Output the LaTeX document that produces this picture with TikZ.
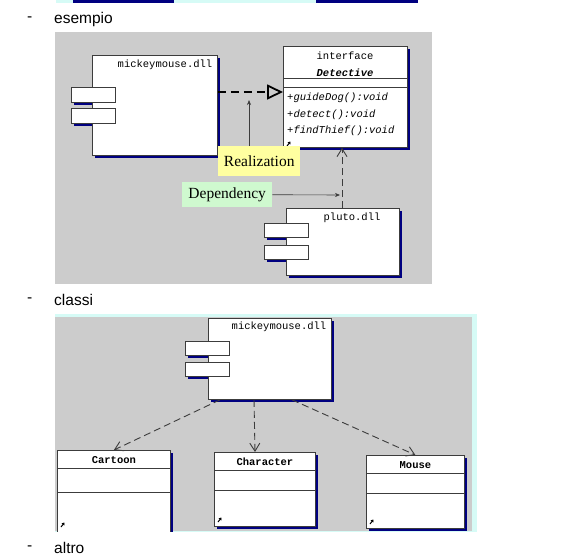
\documentclass[tikz,border=0pt]{standalone}
\usepackage{fontspec}
\newfontfamily\pagefont{Liberation Sans}
\newfontfamily\umlfont{Liberation Mono}
\newfontfamily\notefont{Liberation Serif}
\usetikzlibrary{arrows.meta}
\usetikzlibrary{shadows}

\definecolor{PanelGray}{HTML}{CCCCCC}
\definecolor{PanelCyan}{HTML}{D6FBF6}
\definecolor{ShadowBlue}{HTML}{000080}
\definecolor{BoxLine}{HTML}{3C3C3C}
\definecolor{NoteYellow}{HTML}{FFFFA0}
\definecolor{NoteGreen}{HTML}{CFF9CF}

\newcommand{\umlsize}{\fontsize{10.5}{12}\selectfont}
\newcommand{\umlcorner}[2]{\draw [line width=1pt, -{Triangle[length=2.5pt, width=3.5pt]}] (#1,#2) -- ++(3.5,-4.5);}

\tikzset{
    umlbox/.style={draw=BoxLine, fill=white, line width=0.8pt, inner sep=0pt, anchor=north west,
        drop shadow={shadow xshift=3pt, shadow yshift=-3pt, fill=ShadowBlue, opacity=1}},
    portbox/.style={draw=BoxLine, fill=white, line width=0.8pt, inner sep=0pt, anchor=north west},
    umltext/.style={inner sep=0pt, font=\umlfont\umlsize},
    notebox/.style={inner sep=0pt, anchor=north west, font=\notefont\fontsize{15.5}{18}\selectfont},
    pagetext/.style={inner sep=0pt, anchor=west, font=\pagefont\fontsize{15.5}{18}\selectfont},
    realize/.style={line width=1.8pt, dash pattern=on 8pt off 5pt, -{Triangle[open, length=16pt, width=15pt]}},
    depend/.style={color=BoxLine, line width=0.9pt, dash pattern=on 7pt off 4pt, -{Straight Barb[length=8pt, width=10pt]}},
    pointer/.style={color=BoxLine, line width=0.6pt, -{Stealth[length=5pt, width=4pt]}},
}

\begin{document}
\begin{tikzpicture}[x=1pt, y=-1pt]
            \useasboundingbox (0,0) rectangle (577,558);

            % Leftover of the diagram above
            \fill [PanelCyan] (56,0) rectangle (418,3);
            \fill [ShadowBlue] (73,0) rectangle (174,2.5);
            \fill [ShadowBlue] (316,0) rectangle (418,2.5);

            % Bullet lines
            \foreach \y/\ytext in {19/esempio, 300/classi, 548/altro} {
                \node [pagetext] (dash-\ytext) at (27,\y) {-};
                \node [pagetext] (\ytext) at (54,\y) {\ytext};
            }

            % Example panel
            \fill [PanelGray] (55,32) rectangle (432,284);

            % mickeymouse.dll
            \foreach \y in {87,108}
                \node [umlbox, minimum width=44pt, minimum height=15pt] (mickey-shade-\y) at (71,\y) {};
            \node [umlbox, minimum width=125pt, minimum height=100pt] (mickey) at (92,55) {};
            \foreach \y in {87,108}
                \node [portbox, minimum width=44pt, minimum height=15pt] (mickey-port-\y) at (71,\y) {};
            \node [umltext] (mickey-name) at (165,65) {mickeymouse.dll};

            % interface Detective
            \node [umlbox, minimum width=124pt, minimum height=101pt] (detective) at (283,46) {};
            \draw [BoxLine, line width=0.8pt] (detective.west |- 0,78) -- (detective.east |- 0,78);
            \draw [BoxLine, line width=0.8pt] (detective.west |- 0,87) -- (detective.east |- 0,87);
            \node [umltext] (detective-stereo) at (345,56) {interface};
            \node [umltext, font=\umlfont\umlsize\bfseries\itshape] (detective-name) at (345,73) {Detective};
            \foreach \y/\mtext in {98/guideDog, 115/detect, 131/findThief}
                \node [umltext, anchor=west, font=\umlfont\umlsize\itshape] (detective-\mtext) at (287,\y) {+\mtext():void};
            \umlcorner{287}{146}

            % Realization
            \coordinate (realize-y) at (0,92);
            \draw [realize] (mickey.east |- realize-y) -- (detective.west |- realize-y);
            \node [notebox, fill=NoteYellow, minimum width=82pt, minimum height=30pt] (realization) at (218,146) {Realization};
            \coordinate (realization-tip) at (249,100);
            \draw [pointer] (realization-tip |- realization.north) -- (realization-tip);

            % pluto.dll
            \foreach \y in {223,245}
                \node [umlbox, minimum width=44pt, minimum height=14pt] (pluto-shade-\y) at (264,\y) {};
            \node [umlbox, minimum width=113pt, minimum height=67pt] (pluto) at (286,208) {};
            \foreach \y in {223,245}
                \node [portbox, minimum width=44pt, minimum height=14pt] (pluto-port-\y) at (264,\y) {};
            \node [umltext] (pluto-name) at (352,218) {pluto.dll};

            % Dependency
            \coordinate (dependency-x) at (342,0);
            \draw [depend] (pluto.north -| dependency-x) -- (detective.south -| dependency-x);
            \node [notebox, fill=NoteGreen, minimum width=90pt, minimum height=25pt] (dependency) at (182,182) {Dependency};
            \coordinate (dependency-tip) at (340,195);
            \draw [pointer] (dependency.east) -- (dependency-tip);

            % Classes panel
            \fill [PanelCyan] (55,314) rectangle (477,532);
            \fill [PanelGray] (55,317) rectangle (472,531);
            \begin{scope}
                \clip (55,317) rectangle (472,531);

                % mickeymouse.dll
                \foreach \y in {341,362}
                    \node [umlbox, minimum width=44pt, minimum height=14pt] (mickey2-shade-\y) at (185,\y) {};
                \node [umlbox, minimum width=123pt, minimum height=81pt] (mickey2) at (208,318) {};
                \foreach \y in {341,362}
                    \node [portbox, minimum width=44pt, minimum height=14pt] (mickey2-port-\y) at (185,\y) {};
                \node [umltext] (mickey2-name) at (279,327) {mickeymouse.dll};

                % Cartoon, Character, Mouse
                \foreach \cname/\cx/\cy/\cw/\ch/\la/\lb/\ty in {Cartoon/57/450/113/92/468/492/460, Character/214/452/101/74/470/490/462, Mouse/366/455/98/73/473/493/465} {
                    \node [umlbox, minimum width=\cw pt, minimum height=\ch pt] (class-\cname) at (\cx,\cy) {};
                    \draw [BoxLine, line width=0.8pt] (class-\cname.west |- 0,\la) -- (class-\cname.east |- 0,\la);
                    \draw [BoxLine, line width=0.8pt] (class-\cname.west |- 0,\lb) -- (class-\cname.east |- 0,\lb);
                    \node [umltext, font=\umlfont\umlsize\bfseries] (class-\cname-name) at (class-\cname.north |- 0,\ty) {\cname};
                }
                \umlcorner{61}{527}
                \umlcorner{218}{522}
                \umlcorner{370}{524}

                % Dependencies
                \draw [depend] ([xshift=12pt]mickey2.south west) -- (class-Cartoon.north);
                \draw [depend] ([xshift=46pt]mickey2.south west) -- ([xshift=41pt]class-Character.north west);
                \draw [depend] ([xshift=84pt]mickey2.south west) -- (class-Mouse.north);
            \end{scope}
\end{tikzpicture}
\end{document}
